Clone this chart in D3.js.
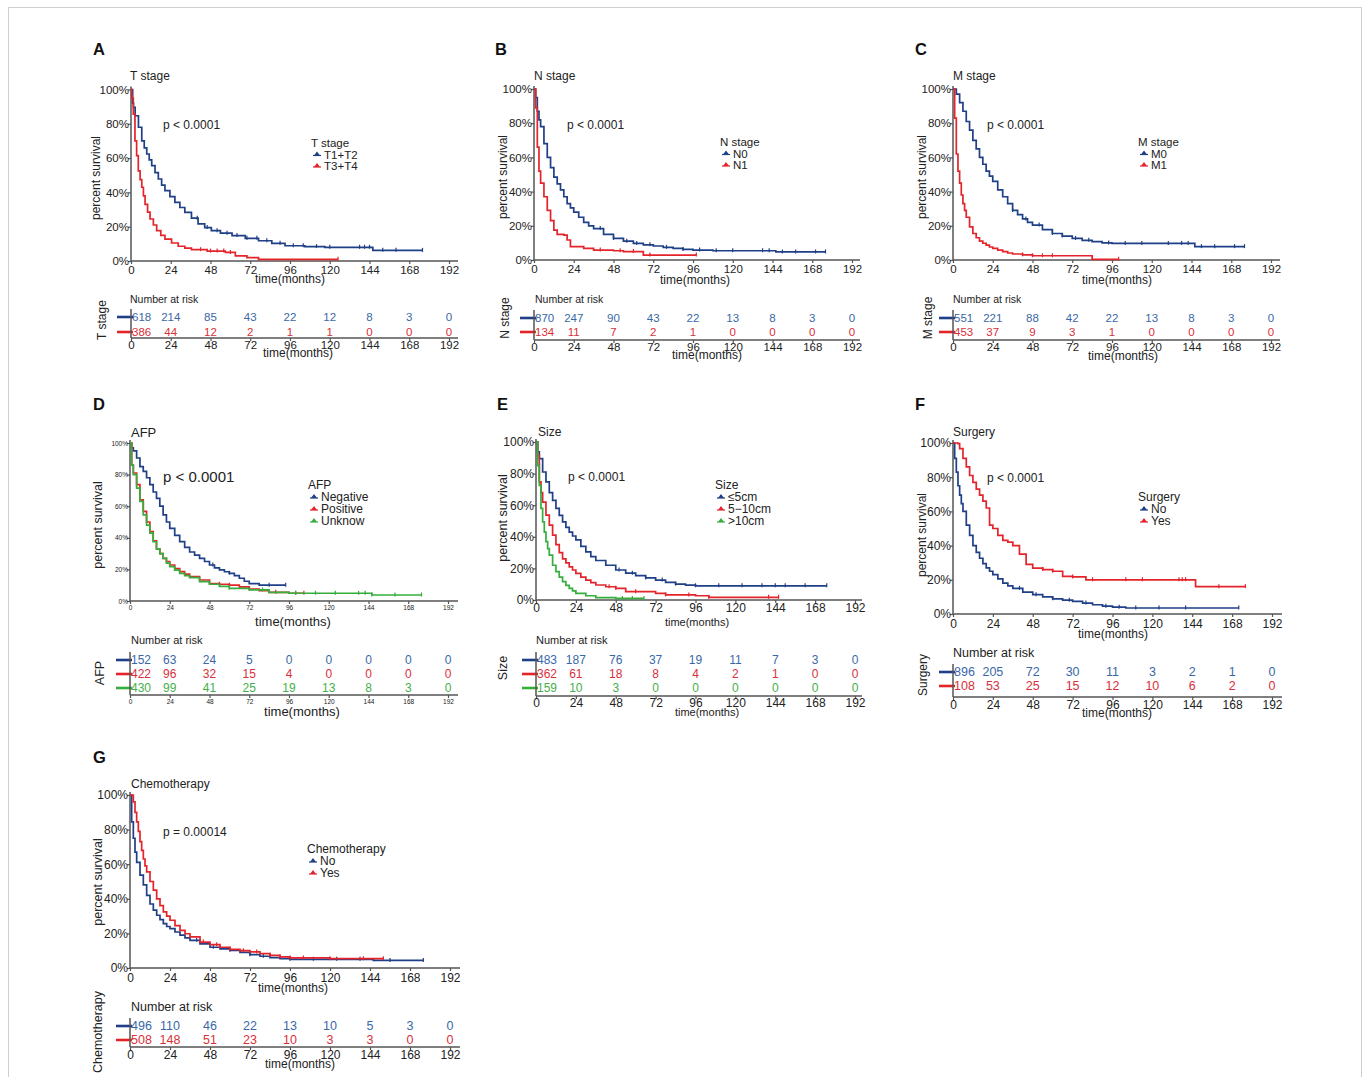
<!DOCTYPE html>
<html>
<head>
<meta charset="utf-8">
<script src="https://cdn.jsdelivr.net/npm/d3@7"></script>
<style>
  body { margin: 0; background: #fff; }
  svg { display: block; font-family: "Liberation Sans", Arial, sans-serif; }
</style>
</head>
<body>
<svg id="fig" width="1370" height="1077"></svg>
<script>
// ---- shared ticks
const months = [0, 24, 48, 72, 96, 120, 144, 168, 192];
const pctTicks = [0, 20, 40, 60, 80, 100];

// ---- A: T stage
const tGroups = ["T1+T2", "T3+T4"];
const tT12 = [[0,100],[1,92],[1.5,89.6],[2.5,84.7],[4.5,78],[6.5,70],[8,66],[9.5,62.4],[11,59],[12.5,55.6],[14.5,51.5],[16.5,47.8],[18.5,44.3],[20.5,41],[23.5,37.5],[26.5,34.2],[29.5,31.2],[32.5,28.4],[36.5,25],[40.5,21.6],[44.5,19.5],[48.5,17.7],[54,16.2],[61,14.8],[69,13.2],[77,11.8],[85,10.3],[93,8.9],[105,8.4],[117,8],[146,6.2],[176,6.2]];
const tT34 = [[0,100],[0.5,95],[1.4,85.7],[2.4,70],[3.4,61.4],[4.4,52.6],[5.5,47.5],[6.5,43],[7.5,38],[8.5,33],[10,28.5],[11.5,24.5],[13.5,21],[15.5,17.7],[18,15],[20.5,12.8],[24.5,10.5],[28.5,8.6],[32.5,7.5],[36.5,6.6],[46,5.8],[57,5],[63,3],[70,2],[77,1],[125,1]];
const tCensor = [[40,46,52,58,64,70,76,82,90,98,104,112,120,138,141,144,152,160,176],[42,48,52,56,60,125]];
const tRisk = [[618,214,85,43,22,12,8,3,0],[386,44,12,2,1,1,0,0,0]];

// ---- B: N stage
const nGroups = ["N0", "N1"];
const nN0 = [[0,100],[1,95],[2,87],[3,82],[4,78],[6,68],[8,60],[10,54],[12,48.5],[14,44.5],[16,41],[18,37],[20,33],[22,30.5],[24,28],[27,25],[30,22],[33,20],[36,18.4],[42,15],[48,12.6],[54,11],[60,9.7],[66,8.9],[72,8.2],[78,7.4],[84,6.8],[90,6.2],[96,5.8],[108,5.4],[146,4.7],[176,4.7]];
const nN1 = [[0,100],[1,89],[2,66],[3,52],[4,45],[6,37],[8,29],[10,23],[12,17.5],[14,15],[18,14.6],[20,11.7],[22,7.8],[30,6.8],[36,5.8],[48,5.4],[54,4.9],[66,2.9],[98,2.9]];
const nCensor = [[40,48,56,62,70,80,90,100,110,120,138,142,150,158,170,176],[40,52,60,70,98]];
const nRisk = [[870,247,90,43,22,13,8,3,0],[134,11,7,2,1,0,0,0,0]];

// ---- C: M stage
const mGroups = ["M0", "M1"];
const mM0 = [[0,100],[2,97],[4,92],[6,87],[8,81],[10,76],[12,70],[14,65],[16,60],[18,56],[20,52],[22,49],[24,46],[27,41],[30,37],[33,33],[36,29],[39,26.5],[42,24],[45,22],[48,20.4],[54,17.8],[60,15.5],[66,14],[72,12.6],[78,11.5],[84,10.7],[90,10],[96,9.7],[146,7.8],[176,7.8]];
const mM1 = [[0,100],[1,83],[2,62],[3,52],[4,45],[5,38],[6,33],[7,29],[8,25],[10,19.4],[12,15.5],[14,13],[16,11],[18,9.8],[20,8.7],[22,7.6],[24,6.8],[27,5.8],[30,4.9],[33,4.1],[36,3.5],[42,3],[48,2.5],[83,2.5],[84,0.4],[100,0.4]];
const mCensor = [[36,44,52,60,66,74,82,94,104,114,130,138,142,150,158,170,176],[42,48,54,60,100]];
const mRisk = [[551,221,88,42,22,13,8,3,0],[453,37,9,3,1,0,0,0,0]];

// ---- D: AFP
const afpGroups = ["Negative", "Positive", "Unknow"];
const afpNeg = [[0,100],[1,97],[2,95],[4,90.5],[6,85],[8,82],[10,78],[12,73.6],[14,69],[16,65],[18,60],[20,54.5],[22,50],[24,46],[27,41.5],[30,37.6],[33,34],[36,31],[39,29],[42,27],[45,25],[48,22.8],[51,21],[54,19.7],[57,18.5],[60,17.5],[63,16],[66,14.4],[69,12.5],[72,11],[78,10],[94,10]];
const afpPos = [[0,100],[1,86],[2,81],[4,73.6],[6,64],[8,56.7],[10,50],[12,44],[14,38],[16,33],[18,30],[20,27],[22,25],[24,22.8],[27,20.5],[30,18.6],[33,17],[36,15.4],[42,13.3],[48,11],[54,10.6],[60,10],[66,9],[72,7.6],[78,6.5],[84,5.5],[96,4.9],[105,4.9]];
const afpUnk = [[0,100],[1,86],[2,80],[4,71.5],[6,63],[8,54.5],[10,48],[12,43],[14,37.5],[16,33],[18,30],[20,27],[22,24],[24,21.8],[27,19.5],[30,17.5],[33,16],[36,14.8],[42,12.3],[48,10.6],[54,9.2],[60,8],[72,7],[84,5.5],[96,4.9],[146,3.8],[176,3.8]];
const afpCensor = [[50,60,84,94],[54,60,72,88,100,105],[60,80,100,112,124,138,142,146,160,176]];
const afpRisk = [[152,63,24,5,0,0,0,0,0],[422,96,32,15,4,0,0,0,0],[430,99,41,25,19,13,8,3,0]];

// ---- E: Size
const sizeGroups = ["≤5cm", "5−10cm", ">10cm"];
const sizeS5 = [[0,100],[1,93.7],[2,89.5],[4,81],[6,74.7],[8,68],[10,63],[12,58],[14,53.5],[16,49.5],[18,46],[20,43],[22,40.5],[24,38],[27,34],[30,30.5],[33,27.5],[36,25],[42,22],[48,19],[54,17],[60,15.4],[66,14],[72,12.6],[78,11.2],[84,10],[90,9.4],[96,9],[175,9]];
const sizeS10 = [[0,100],[1,91.6],[2,74.7],[3,68],[4,62],[6,53.7],[8,47.4],[10,41],[12,35],[14,30],[16,26],[18,23.5],[20,21],[22,19],[24,16.8],[27,14.5],[30,12.6],[33,11],[36,9.5],[42,8.4],[48,7.4],[54,5.3],[72,4.2],[78,3.2],[96,2.7],[104,1.7],[146,1.7]];
const sizeS11 = [[0,100],[1,85],[2,72.6],[3,58],[4,49.5],[5,43],[6,37],[7,32.5],[8,28.4],[10,22],[12,17.9],[14,14.5],[16,11.6],[18,9.3],[20,7.4],[22,5.8],[24,4.2],[30,2.7],[36,1.5],[48,1],[65,1]];
const sizeCensor = [[50,58,66,76,84,96,110,124,136,144,150,162,175],[44,48,60,78,92,104,140,146],[52,58,65]];
const sizeRisk = [[483,187,76,37,19,11,7,3,0],[362,61,18,8,4,2,1,0,0],[159,10,3,0,0,0,0,0,0]];

// ---- F: Surgery
const surgGroups = ["No", "Yes"];
const surgNo = [[0,100],[1,91],[2,83],[3,75],[4,69.5],[5,64.5],[6,60],[8,52],[10,46],[12,40],[14,36],[16,32.6],[18,29.5],[20,27],[22,25],[24,23],[27,20.5],[30,18],[33,16.4],[36,15],[42,12.8],[48,11.3],[54,10],[60,8.9],[66,8.1],[72,7.4],[78,6.4],[84,5.4],[90,4.6],[96,4],[104,3.5],[172,3.5]];
const surgYes = [[0,100],[3,99.6],[4,96.7],[6,91],[8,86],[10,81],[12,77],[14,73],[16,69.5],[18,66],[20,62],[22,52],[24,50],[27,46],[30,43],[33,42],[36,40],[40,35],[44,29],[48,26.8],[54,26],[60,25],[66,22],[72,21.7],[80,20],[146,16],[176,16]];
const surgCensor = [[40,50,60,70,80,92,100,110,124,140,172],[54,60,72,84,104,114,136,138,140,160,176]];
const surgRisk = [[896,205,72,30,11,3,2,1,0],[108,53,25,15,12,10,6,2,0]];

// ---- G: Chemotherapy
const chemoGroups = ["No", "Yes"];
const chemoNo = [[0,100],[1,84.5],[2,75],[3,67],[4,61],[6,53.7],[8,48],[10,42],[12,37],[14,33.5],[16,30.5],[18,28],[20,25.7],[22,24],[24,22.8],[27,20.8],[30,19],[33,17.4],[36,16],[42,14],[48,12],[54,11],[60,10.2],[66,9],[72,7.7],[78,6.8],[84,6],[90,5.4],[96,5],[146,4.4],[176,4.4]];
const chemoYes = [[0,100],[2,96],[3,90],[4,84.5],[5,79],[6,73],[7,68],[8,63],[9,59],[10,55.6],[12,50],[14,45],[16,40],[18,36],[20,32.4],[22,30],[24,27.6],[27,24.5],[30,21.8],[33,19.8],[36,18],[42,15],[48,13.5],[54,12],[60,10.8],[66,10],[72,9.3],[78,8.3],[84,7.3],[90,6.4],[96,5.8],[120,5.4],[152,5.4]];
const chemoCensor = [[40,50,60,72,80,96,110,124,138,156,176],[44,52,60,68,76,84,90,96,104,120,140,152]];
const chemoRisk = [[496,110,46,22,13,10,5,3,0],[508,148,51,23,10,3,3,0,0]];

const lineColors = ["#1f3f86", "#e3242b", "#35ae3c"];
const textColors = ["#3a68a6", "#d8303a", "#45b04a"];
const axisColor = "#555";

const svg = d3.select("#fig");

// outer frame
svg.append("rect").attr("x", 8.5).attr("y", 7.5).attr("width", 1353).attr("height", 1100)
  .attr("fill", "none").attr("stroke", "#cfcfcf");

// panel placement and type sizes
const panels = [
  { letter: "A", letterPos: [93, 55], title: "T stage", titlePos: [130, 80], titleSize: 12,
    left: 131, right: 449, top: 89.5, bottom: 261, axisEnd: 458, tickFont: 11.5, tickPad: 2,
    xTitle: [290, 283], xTitleSize: 12, yTitle: [100, 178], yTitleSize: 12,
    p: "p < 0.0001", pPos: [163, 129], pSize: 12, legendPos: [311, 147], legendDy: 11.5, legendSize: 11.5,
    riskTitlePos: [130, 303], riskTitleSize: 10.5, riskRows: [321, 336], riskSize: 11.5,
    riskAxis: 338, riskTickFont: 11.5, riskTickPad: 0, riskXTitle: [298, 357], riskYTitle: [106, 320],
    groups: tGroups, curves: [tT12, tT34], censors: tCensor, risks: tRisk },
  { letter: "B", letterPos: [495, 55], title: "N stage", titlePos: [534, 80], titleSize: 12,
    left: 534, right: 852, top: 89, bottom: 260, axisEnd: 860, tickFont: 11.5, tickPad: 2,
    xTitle: [695, 284], xTitleSize: 12, yTitle: [507, 177], yTitleSize: 12,
    p: "p < 0.0001", pPos: [567, 129], pSize: 12, legendPos: [720, 146], legendDy: 11.5, legendSize: 11.5,
    riskTitlePos: [535, 303], riskTitleSize: 10.5, riskRows: [322, 336], riskSize: 11.5,
    riskAxis: 340, riskTickFont: 11.5, riskTickPad: 0, riskXTitle: [707, 359], riskYTitle: [509, 318],
    groups: nGroups, curves: [nN0, nN1], censors: nCensor, risks: nRisk },
  { letter: "C", letterPos: [915, 55], title: "M stage", titlePos: [953, 80], titleSize: 12,
    left: 953, right: 1271, top: 89, bottom: 260, axisEnd: 1280, tickFont: 11.5, tickPad: 2,
    xTitle: [1117, 284], xTitleSize: 12, yTitle: [926, 177], yTitleSize: 12,
    p: "p < 0.0001", pPos: [987, 129], pSize: 12, legendPos: [1138, 146], legendDy: 11.5, legendSize: 11.5,
    riskTitlePos: [953, 303], riskTitleSize: 10.5, riskRows: [322, 336], riskSize: 11.5,
    riskAxis: 340, riskTickFont: 11.5, riskTickPad: 0, riskXTitle: [1123, 360], riskYTitle: [932, 318],
    groups: mGroups, curves: [mM0, mM1], censors: mCensor, risks: mRisk },
  { letter: "D", letterPos: [93, 410], title: "AFP", titlePos: [131, 437], titleSize: 13,
    left: 130, right: 448, top: 443, bottom: 601, axisEnd: 458, tickFont: 6.5, tickPad: 1,
    xTitle: [293, 626], xTitleSize: 13, yTitle: [102, 525], yTitleSize: 12.5,
    p: "p < 0.0001", pPos: [163, 482], pSize: 15, legendPos: [308, 489], legendDy: 12, legendSize: 12,
    riskTitlePos: [131, 644], riskTitleSize: 11, riskRows: [664, 678, 692], riskSize: 12,
    riskAxis: 695, riskTickFont: 6.5, riskTickPad: 1, riskXTitle: [302, 716], riskYTitle: [104, 673],
    groups: afpGroups, curves: [afpNeg, afpPos, afpUnk], censors: afpCensor, risks: afpRisk },
  { letter: "E", letterPos: [497, 410], title: "Size", titlePos: [538, 436], titleSize: 12,
    left: 536, right: 855, top: 442, bottom: 600, axisEnd: 862, tickFont: 12, tickPad: 0,
    xTitle: [697, 626], xTitleSize: 11, yTitle: [507, 518], yTitleSize: 12.5,
    p: "p < 0.0001", pPos: [568, 481], pSize: 12, legendPos: [715, 489], legendDy: 12, legendSize: 12,
    riskTitlePos: [536, 644], riskTitleSize: 11, riskRows: [664, 678, 692], riskSize: 12,
    riskAxis: 696, riskTickFont: 12, riskTickPad: -1, riskXTitle: [707, 716], riskYTitle: [507, 668],
    groups: sizeGroups, curves: [sizeS5, sizeS10, sizeS11], censors: sizeCensor, risks: sizeRisk },
  { letter: "F", letterPos: [915, 410], title: "Surgery", titlePos: [953, 436], titleSize: 12,
    left: 953, right: 1272, top: 443, bottom: 614, axisEnd: 1282, tickFont: 12, tickPad: 2,
    xTitle: [1113, 638], xTitleSize: 12, yTitle: [926, 535], yTitleSize: 12,
    p: "p < 0.0001", pPos: [987, 482], pSize: 12, legendPos: [1138, 501], legendDy: 12, legendSize: 12,
    riskTitlePos: [953, 657], riskTitleSize: 12.5, riskRows: [676, 690], riskSize: 12.5,
    riskAxis: 697, riskTickFont: 12, riskTickPad: 0, riskXTitle: [1117, 717], riskYTitle: [927, 675],
    groups: surgGroups, curves: [surgNo, surgYes], censors: surgCensor, risks: surgRisk },
  { letter: "G", letterPos: [93, 763], title: "Chemotherapy", titlePos: [131, 788], titleSize: 12,
    left: 130, right: 450, top: 795, bottom: 968, axisEnd: 460, tickFont: 12, tickPad: 2,
    xTitle: [293, 992], xTitleSize: 12, yTitle: [102, 882], yTitleSize: 12.5,
    p: "p = 0.00014", pPos: [163, 836], pSize: 12, legendPos: [307, 853], legendDy: 12, legendSize: 12,
    riskTitlePos: [131, 1011], riskTitleSize: 12.5, riskRows: [1030, 1044], riskSize: 12.5,
    riskAxis: 1047, riskTickFont: 12, riskTickPad: 0, riskXTitle: [300, 1068], riskYTitle: [102, 1032],
    groups: chemoGroups, curves: [chemoNo, chemoYes], censors: chemoCensor, risks: chemoRisk }
];

function survAt(curve, t) {
  let s = curve[0][1];
  for (const [tt, v] of curve) { if (tt <= t) s = v; else break; }
  return s;
}

function styleAxis(a, size) {
  a.select(".domain").remove();
  a.selectAll("line").attr("stroke", axisColor).attr("stroke-width", 1.2);
  a.selectAll("text").attr("font-size", size).attr("fill", "#222")
    .attr("font-family", '"Liberation Sans", Arial, sans-serif');
}

function rotText(g, pos, size, txt) {
  g.append("text").attr("transform", `translate(${pos[0]},${pos[1]}) rotate(-90)`)
    .attr("text-anchor", "middle").attr("font-size", size).attr("fill", "#222").text(txt);
}

function drawPanel(p) {
  const g = svg.append("g");
  const x = d3.scaleLinear().domain([0, 192]).range([p.left, p.right]);
  const y = d3.scaleLinear().domain([0, 100]).range([p.bottom, p.top]);

  g.append("text").attr("x", p.letterPos[0]).attr("y", p.letterPos[1])
    .attr("font-size", 16.5).attr("font-weight", "bold").attr("fill", "#111").text(p.letter);
  g.append("text").attr("x", p.titlePos[0]).attr("y", p.titlePos[1])
    .attr("font-size", p.titleSize).attr("fill", "#222").text(p.title);

  // axes of the survival plot
  const yAx = g.append("g").attr("transform", `translate(${p.left},0)`)
    .call(d3.axisLeft(y).tickValues(pctTicks).tickFormat(d => d + "%").tickSize(3).tickPadding(-1));
  styleAxis(yAx, p.tickFont);
  const xAx = g.append("g").attr("transform", `translate(0,${p.bottom})`)
    .call(d3.axisBottom(x).tickValues(months).tickSize(3).tickPadding(p.tickPad));
  styleAxis(xAx, p.tickFont);
  g.append("line").attr("x1", p.left).attr("x2", p.left).attr("y1", p.top - 3).attr("y2", p.bottom)
    .attr("stroke", axisColor).attr("stroke-width", 1.5);
  g.append("line").attr("x1", p.left).attr("x2", p.axisEnd).attr("y1", p.bottom).attr("y2", p.bottom)
    .attr("stroke", axisColor).attr("stroke-width", 1.5);

  g.append("text").attr("x", p.xTitle[0]).attr("y", p.xTitle[1]).attr("text-anchor", "middle")
    .attr("font-size", p.xTitleSize).attr("fill", "#222").text("time(months)");
  rotText(g, p.yTitle, p.yTitleSize, "percent survival");
  g.append("text").attr("x", p.pPos[0]).attr("y", p.pPos[1])
    .attr("font-size", p.pSize).attr("fill", "#222").text(p.p);

  // curves with censor ticks
  const line = d3.line().x(d => x(d[0])).y(d => y(d[1])).curve(d3.curveStepAfter);
  p.curves.forEach((c, i) => {
    g.append("path").attr("d", line(c)).attr("fill", "none")
      .attr("stroke", lineColors[i]).attr("stroke-width", 1.7);
    g.selectAll(null).data(p.censors[i]).join("line")
      .attr("x1", d => x(d)).attr("x2", d => x(d))
      .attr("y1", d => y(survAt(c, d)) - 2.5).attr("y2", d => y(survAt(c, d)) + 1.5)
      .attr("stroke", lineColors[i]).attr("stroke-width", 1.2);
  });

  // legend
  const [lx, ly] = p.legendPos;
  g.append("text").attr("x", lx).attr("y", ly).attr("font-size", p.legendSize)
    .attr("fill", "#222").text(p.title);
  p.groups.forEach((name, i) => {
    const by = ly + (i + 1) * p.legendDy;
    const cx = lx + 6, cy = by - 3;
    g.append("line").attr("x1", cx - 4).attr("x2", cx + 4).attr("y1", cy).attr("y2", cy)
      .attr("stroke", lineColors[i]).attr("stroke-width", 1.2);
    g.append("path").attr("d", `M${cx - 3},${cy} L${cx + 3},${cy} L${cx},${cy - 4} Z`)
      .attr("fill", lineColors[i]);
    g.append("text").attr("x", lx + 13).attr("y", by).attr("font-size", p.legendSize)
      .attr("fill", "#222").text(name);
  });

  // number at risk table (first column starts at the axis, the rest are centred)
  g.append("text").attr("x", p.riskTitlePos[0]).attr("y", p.riskTitlePos[1])
    .attr("font-size", p.riskTitleSize).attr("fill", "#222").text("Number at risk");
  p.risks.forEach((r, i) => {
    g.selectAll(null).data(r).join("text")
      .attr("x", (d, j) => x(months[j]) + (j === 0 ? 1 : 0)).attr("y", p.riskRows[i])
      .attr("text-anchor", (d, j) => j === 0 ? "start" : "middle").attr("font-size", p.riskSize)
      .attr("fill", textColors[i]).text(d => d);
  });
  p.risks.forEach((r, i) => {
    const by = p.riskRows[i] - 4;
    g.append("line").attr("x1", p.left - 14).attr("x2", p.left + 2).attr("y1", by).attr("y2", by)
      .attr("stroke", lineColors[i]).attr("stroke-width", 2.6);
  });
  const rAx = g.append("g").attr("transform", `translate(0,${p.riskAxis})`)
    .call(d3.axisBottom(x).tickValues(months).tickSize(3).tickPadding(p.riskTickPad));
  styleAxis(rAx, p.riskTickFont);
  g.append("line").attr("x1", p.left).attr("x2", p.axisEnd).attr("y1", p.riskAxis).attr("y2", p.riskAxis)
    .attr("stroke", axisColor).attr("stroke-width", 1.5);
  g.append("line").attr("x1", p.left).attr("x2", p.left)
    .attr("y1", p.riskRows[0] - 12).attr("y2", p.riskAxis)
    .attr("stroke", axisColor).attr("stroke-width", 1.5);
  g.append("text").attr("x", p.riskXTitle[0]).attr("y", p.riskXTitle[1]).attr("text-anchor", "middle")
    .attr("font-size", p.xTitleSize).attr("fill", "#222").text("time(months)");
  rotText(g, p.riskYTitle, p.yTitleSize, p.title);
}

panels.forEach(drawPanel);
</script>
</body>
</html>
